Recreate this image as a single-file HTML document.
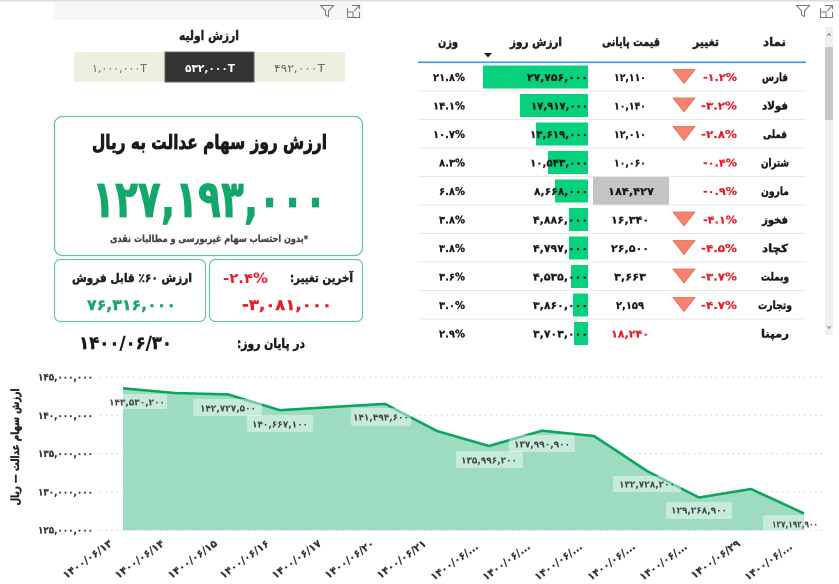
<!DOCTYPE html>
<html><head><meta charset="utf-8"><style>
html,body{margin:0;padding:0;background:#fff;width:839px;height:584px;overflow:hidden}
svg{display:block}
text{font-family:"DejaVu Sans","Liberation Sans",sans-serif;font-weight:bold}
.n{direction:ltr;unicode-bidi:bidi-override}
.r{direction:rtl;stroke:#222;stroke-width:0.45px}
.fb{stroke-width:0.3px}
</style></head><body>
<svg width="839" height="584" viewBox="0 0 839 584" xmlns="http://www.w3.org/2000/svg">
<rect x="0" y="0" width="839" height="1.5" fill="#dcdcdc"/>
<rect x="54" y="2" width="309" height="18" fill="#f7f7f7"/>
<g fill="none" stroke="#777" stroke-width="1">
<path d="M320.5,5.5 L333.5,5.5 L328.5,11 L328.5,16.5 L325.5,15 L325.5,11 Z"/>
<path d="M347.5,8 L347.5,17.5 L359.5,17.5 L359.5,12 M347.5,12 L353,12 L353,17.5 M352,5.5 L359.5,5.5 L359.5,9 M359.5,5.5 L354,11"/>
<path d="M796.5,5.5 L809.5,5.5 L804.5,11 L804.5,16.5 L801.5,15 L801.5,11 Z"/>
<path d="M820.5,8 L820.5,17.5 L832.5,17.5 L832.5,12 M820.5,12 L826,12 L826,17.5 M825,5.5 L832.5,5.5 L832.5,9 M832.5,5.5 L827,11"/>
</g>
<text class="r" x="209" y="40" font-size="13" text-anchor="middle" textLength="60" lengthAdjust="spacingAndGlyphs" fill="#222">ارزش اولیه</text>
<rect x="74" y="52" width="91" height="30" fill="#edf0df"/>
<rect x="254" y="52" width="91" height="30" fill="#edf0df"/>
<rect x="165" y="52" width="89" height="30" fill="#333" stroke="#666" stroke-width="1"/>
<text class="n" x="119.5" y="72" font-size="11" text-anchor="middle" textLength="55" lengthAdjust="spacingAndGlyphs" fill="#666" style="font-weight:normal">۱,۰۰۰,۰۰۰T</text>
<text class="n" x="210" y="72" font-size="11" text-anchor="middle" textLength="50" lengthAdjust="spacingAndGlyphs" fill="#fff">۵۳۲,۰۰۰T</text>
<text class="n" x="299.5" y="72" font-size="11" text-anchor="middle" textLength="51" lengthAdjust="spacingAndGlyphs" fill="#666" style="font-weight:normal">۴۹۲,۰۰۰T</text>
<rect x="54.5" y="116.5" width="308" height="139" rx="8" fill="#fff" stroke="#6cc59a" stroke-width="1.3"/>
<text class="r" x="209.5" y="149" font-size="20" text-anchor="middle" textLength="235" lengthAdjust="spacingAndGlyphs" fill="#1a1a1a" style="stroke:#1a1a1a;stroke-width:0.8px">ارزش روز سهام عدالت به ریال</text>
<text class="n" x="209.5" y="217" font-size="52" text-anchor="middle" textLength="235" lengthAdjust="spacingAndGlyphs" fill="#14a76c" stroke="#14a76c" stroke-width="0.8">۱۲۷,۱۹۳,۰۰۰</text>
<text class="r" x="209" y="242" font-size="10" text-anchor="middle" textLength="198" lengthAdjust="spacingAndGlyphs" fill="#444" style="stroke:#444;stroke-width:0.3px">*بدون احتساب سهام غیربورسی و مطالبات نقدی</text>
<rect x="54.5" y="259.5" width="151" height="62" rx="6" fill="#fff" stroke="#6cc59a" stroke-width="1.2"/>
<rect x="209.5" y="259.5" width="153" height="62" rx="6" fill="#fff" stroke="#6cc59a" stroke-width="1.2"/>
<text class="r" x="132" y="282" font-size="12" text-anchor="middle" textLength="120" lengthAdjust="spacingAndGlyphs" fill="#222">ارزش ۶۰٪ قابل فروش</text>
<text class="n" x="131.5" y="310" font-size="15" text-anchor="middle" textLength="89" lengthAdjust="spacingAndGlyphs" fill="#1aa86b" stroke="#1aa86b" stroke-width="0.4">۷۶,۳۱۶,۰۰۰</text>
<text class="r" x="321.5" y="282" font-size="12" text-anchor="middle" textLength="63" lengthAdjust="spacingAndGlyphs" fill="#222">آخرین تغییر:</text>
<text class="n" x="245.5" y="283" font-size="14" text-anchor="middle" textLength="45" lengthAdjust="spacingAndGlyphs" fill="#e81c2a">-۲.۴%</text>
<text class="n" x="287" y="310" font-size="15" text-anchor="middle" textLength="90" lengthAdjust="spacingAndGlyphs" fill="#e81c2a" stroke="#e81c2a" stroke-width="0.4">-۳,۰۸۱,۰۰۰</text>
<text class="n" x="125.5" y="349" font-size="18" text-anchor="middle" textLength="93" lengthAdjust="spacingAndGlyphs" fill="#1a1a1a" stroke="#1a1a1a" stroke-width="0.4">۱۴۰۰/۰۶/۳۰</text>
<text class="r" x="271" y="348" font-size="13" text-anchor="middle" textLength="68" lengthAdjust="spacingAndGlyphs" fill="#1a1a1a">در پایان روز:</text>

<g font-size="12" fill="#222">
<text class="r" x="448" y="46" text-anchor="middle" textLength="20" lengthAdjust="spacingAndGlyphs">وزن</text>
<text class="r" x="536" y="46" text-anchor="middle" textLength="52" lengthAdjust="spacingAndGlyphs">ارزش روز</text>
<text class="r" x="631" y="46" text-anchor="middle" textLength="58" lengthAdjust="spacingAndGlyphs">قیمت پایانی</text>
<text class="r" x="706" y="46" text-anchor="middle" textLength="26" lengthAdjust="spacingAndGlyphs">تغییر</text>
<text class="r" x="774.5" y="46" text-anchor="middle" textLength="23" lengthAdjust="spacingAndGlyphs">نماد</text>
</g>
<polygon points="484,53 492,53 488,57.5" fill="#222"/>
<rect x="418" y="61.5" width="388" height="1.6" fill="#3a96dd"/>
<g fill="#e8e8e8">
<rect x="418" y="90.5" width="388" height="1"/><rect x="418" y="119" width="388" height="1"/>
<rect x="418" y="147.5" width="388" height="1"/><rect x="418" y="176" width="388" height="1"/>
<rect x="418" y="204.5" width="388" height="1"/><rect x="418" y="233" width="388" height="1"/>
<rect x="418" y="261.5" width="388" height="1"/><rect x="418" y="290" width="388" height="1"/>
<rect x="418" y="318.5" width="388" height="1"/>
</g>
<g fill="#07d17c">
<rect x="483" y="65.5" width="105" height="23"/>
<rect x="520" y="94" width="68" height="23"/>
<rect x="536" y="122.5" width="52" height="23"/>
<rect x="548" y="151" width="40" height="23"/>
<rect x="555" y="179.5" width="33" height="23"/>
<rect x="569" y="208" width="19" height="23"/>
<rect x="569" y="236.5" width="19" height="23"/>
<rect x="571" y="265" width="17" height="23"/>
<rect x="573" y="293.5" width="15" height="23"/>
<rect x="574" y="322" width="14" height="23"/>
</g>
<rect x="593" y="177" width="76" height="27.5" fill="#c4c4c4"/>
<g fill="#f7836e" stroke="#e4674f" stroke-width="0.8">
<polygon points="673,69.5 695,69.5 684,83.5"/>
<polygon points="673,98 695,98 684,112"/>
<polygon points="673,126.5 695,126.5 684,140.5"/>
<polygon points="673,212 695,212 684,226"/>
<polygon points="673,240.5 695,240.5 684,254.5"/>
<polygon points="673,269 695,269 684,283"/>
<polygon points="673,297.5 695,297.5 684,311.5"/>
</g>
<g font-size="10.5" fill="#1a1a1a" stroke="#1a1a1a" stroke-width="0.25">
<text class="n" x="465" y="81" text-anchor="end" textLength="32" lengthAdjust="spacingAndGlyphs">۲۱.۸%</text>
<text class="n" x="465" y="109.5" text-anchor="end" textLength="32" lengthAdjust="spacingAndGlyphs">۱۴.۱%</text>
<text class="n" x="465" y="138" text-anchor="end" textLength="32" lengthAdjust="spacingAndGlyphs">۱۰.۷%</text>
<text class="n" x="465" y="166.5" text-anchor="end" textLength="26" lengthAdjust="spacingAndGlyphs">۸.۳%</text>
<text class="n" x="465" y="195" text-anchor="end" textLength="26" lengthAdjust="spacingAndGlyphs">۶.۸%</text>
<text class="n" x="465" y="223.5" text-anchor="end" textLength="26" lengthAdjust="spacingAndGlyphs">۳.۸%</text>
<text class="n" x="465" y="252" text-anchor="end" textLength="26" lengthAdjust="spacingAndGlyphs">۳.۸%</text>
<text class="n" x="465" y="280.5" text-anchor="end" textLength="26" lengthAdjust="spacingAndGlyphs">۳.۶%</text>
<text class="n" x="465" y="309" text-anchor="end" textLength="26" lengthAdjust="spacingAndGlyphs">۳.۰%</text>
<text class="n" x="465" y="337.5" text-anchor="end" textLength="26" lengthAdjust="spacingAndGlyphs">۲.۹%</text>
<text class="n" x="588" y="81" text-anchor="end" textLength="61" lengthAdjust="spacingAndGlyphs">۲۷,۷۵۶,۰۰۰</text>
<text class="n" x="588" y="109.5" text-anchor="end" textLength="57" lengthAdjust="spacingAndGlyphs">۱۷,۹۱۷,۰۰۰</text>
<text class="n" x="588" y="138" text-anchor="end" textLength="58" lengthAdjust="spacingAndGlyphs">۱۳,۶۱۹,۰۰۰</text>
<text class="n" x="588" y="166.5" text-anchor="end" textLength="58" lengthAdjust="spacingAndGlyphs">۱۰,۵۴۳,۰۰۰</text>
<text class="n" x="588" y="195" text-anchor="end" textLength="54" lengthAdjust="spacingAndGlyphs">۸,۶۶۸,۰۰۰</text>
<text class="n" x="588" y="223.5" text-anchor="end" textLength="55" lengthAdjust="spacingAndGlyphs">۴,۸۸۶,۰۰۰</text>
<text class="n" x="588" y="252" text-anchor="end" textLength="55" lengthAdjust="spacingAndGlyphs">۴,۷۹۷,۰۰۰</text>
<text class="n" x="588" y="280.5" text-anchor="end" textLength="55" lengthAdjust="spacingAndGlyphs">۴,۵۳۵,۰۰۰</text>
<text class="n" x="588" y="309" text-anchor="end" textLength="55" lengthAdjust="spacingAndGlyphs">۳,۸۶۰,۰۰۰</text>
<text class="n" x="588" y="337.5" text-anchor="end" textLength="55" lengthAdjust="spacingAndGlyphs">۳,۷۰۳,۰۰۰</text>
<text class="n" x="630" y="81" text-anchor="middle" textLength="32" lengthAdjust="spacingAndGlyphs">۱۲,۱۱۰</text>
<text class="n" x="630" y="109.5" text-anchor="middle" textLength="32" lengthAdjust="spacingAndGlyphs">۱۰,۱۴۰</text>
<text class="n" x="630" y="138" text-anchor="middle" textLength="32" lengthAdjust="spacingAndGlyphs">۱۲,۰۱۰</text>
<text class="n" x="630" y="166.5" text-anchor="middle" textLength="32" lengthAdjust="spacingAndGlyphs">۱۰,۰۶۰</text>
<text class="n" x="631" y="195" text-anchor="middle" textLength="46" lengthAdjust="spacingAndGlyphs">۱۸۴,۴۲۷</text>
<text class="n" x="630" y="223.5" text-anchor="middle" textLength="38" lengthAdjust="spacingAndGlyphs">۱۶,۳۴۰</text>
<text class="n" x="630" y="252" text-anchor="middle" textLength="38" lengthAdjust="spacingAndGlyphs">۲۶,۵۰۰</text>
<text class="n" x="630" y="280.5" text-anchor="middle" textLength="32" lengthAdjust="spacingAndGlyphs">۳,۶۶۳</text>
<text class="n" x="630" y="309" text-anchor="middle" textLength="28" lengthAdjust="spacingAndGlyphs">۲,۱۵۹</text>
<text class="n" x="630" y="337.5" text-anchor="middle" textLength="38" lengthAdjust="spacingAndGlyphs" fill="#e81c2a" stroke="#e81c2a">۱۸,۲۴۰</text>
</g>
<g font-size="10.5" fill="#e81c2a" stroke="#e81c2a" stroke-width="0.2">
<text class="n" x="737" y="81" text-anchor="end" textLength="34" lengthAdjust="spacingAndGlyphs">-۱.۲%</text>
<text class="n" x="737" y="109.5" text-anchor="end" textLength="36" lengthAdjust="spacingAndGlyphs">-۳.۲%</text>
<text class="n" x="737" y="138" text-anchor="end" textLength="36" lengthAdjust="spacingAndGlyphs">-۲.۸%</text>
<text class="n" x="737" y="166.5" text-anchor="end" textLength="34" lengthAdjust="spacingAndGlyphs">-۰.۴%</text>
<text class="n" x="737" y="195" text-anchor="end" textLength="34" lengthAdjust="spacingAndGlyphs">-۰.۹%</text>
<text class="n" x="737" y="223.5" text-anchor="end" textLength="34" lengthAdjust="spacingAndGlyphs">-۴.۱%</text>
<text class="n" x="737" y="252" text-anchor="end" textLength="36" lengthAdjust="spacingAndGlyphs">-۴.۵%</text>
<text class="n" x="737" y="280.5" text-anchor="end" textLength="36" lengthAdjust="spacingAndGlyphs">-۳.۷%</text>
<text class="n" x="737" y="309" text-anchor="end" textLength="36" lengthAdjust="spacingAndGlyphs">-۴.۷%</text>
</g>
<g font-size="11" fill="#1a1a1a">
<text class="r" x="775" y="81" text-anchor="middle" textLength="26" lengthAdjust="spacingAndGlyphs">فارس</text>
<text class="r" x="775" y="109.5" text-anchor="middle" textLength="26" lengthAdjust="spacingAndGlyphs">فولاد</text>
<text class="r" x="775" y="138" text-anchor="middle" textLength="24" lengthAdjust="spacingAndGlyphs">فملی</text>
<text class="r" x="775" y="166.5" text-anchor="middle" textLength="28" lengthAdjust="spacingAndGlyphs">شتران</text>
<text class="r" x="775" y="195" text-anchor="middle" textLength="28" lengthAdjust="spacingAndGlyphs">مارون</text>
<text class="r" x="775" y="223.5" text-anchor="middle" textLength="26" lengthAdjust="spacingAndGlyphs">فخوز</text>
<text class="r" x="775" y="252" text-anchor="middle" textLength="26" lengthAdjust="spacingAndGlyphs">کچاد</text>
<text class="r" x="775" y="280.5" text-anchor="middle" textLength="28" lengthAdjust="spacingAndGlyphs">وبملت</text>
<text class="r" x="775" y="309" text-anchor="middle" textLength="34" lengthAdjust="spacingAndGlyphs">وتجارت</text>
<text class="r" x="775" y="337.5" text-anchor="middle" textLength="28" lengthAdjust="spacingAndGlyphs">رمپنا</text>
</g>
<rect x="825" y="27" width="8" height="308" fill="#f0f0f0"/>
<rect x="825" y="47" width="8" height="73" fill="#c8c8c8"/>
<path d="M827,36 L829,33.5 L831,36" fill="none" stroke="#777" stroke-width="0.8"/>
<path d="M827,326 L829,328.5 L831,326" fill="none" stroke="#777" stroke-width="0.8"/>

<g stroke="#cfcfcf" stroke-width="1" stroke-dasharray="1.5,4">
<line x1="100" y1="377" x2="822" y2="377"/>
<line x1="100" y1="415.3" x2="822" y2="415.3"/>
<line x1="100" y1="453.6" x2="822" y2="453.6"/>
<line x1="100" y1="491.9" x2="822" y2="491.9"/>
<line x1="100" y1="530.2" x2="822" y2="530.2"/>
</g>
<path d="M123,530.2 L123,388.3 L175,393 L228,394.4 L280,410.2 L332,407 L385,403.9 L437,431 L489,446 L542,430.7 L594,436 L647,471 L699,497.5 L751,489 L804,513.4 L804,530.2 Z" fill="#9edcc1"/>
<path d="M123,388.3 L175,393 L228,394.4 L280,410.2 L332,407 L385,403.9 L437,431 L489,446 L542,430.7 L594,436 L647,471 L699,497.5 L751,489 L804,513.4" fill="none" stroke="#0aa65a" stroke-width="2.6" stroke-linejoin="round"/>
<g fill="#ffffff" fill-opacity="0.42">
<rect x="107" y="394" width="60" height="15" rx="2"/>
<rect x="193" y="399" width="69" height="17" rx="2"/>
<rect x="247" y="415" width="66" height="17" rx="2"/>
<rect x="351" y="408" width="60" height="18" rx="2"/>
<rect x="456" y="451" width="67" height="17" rx="2"/>
<rect x="509" y="435" width="66" height="17" rx="2"/>
<rect x="613" y="476" width="68" height="16" rx="2"/>
<rect x="666" y="502" width="66" height="17" rx="2"/>
<rect x="763" y="515" width="57" height="17" rx="2"/>
</g>
<g font-size="9.5" fill="#444" text-anchor="middle">
<text class="n" x="137" y="405.5" textLength="56" lengthAdjust="spacingAndGlyphs">۱۴۳,۵۳۰,۲۰۰</text>
<text class="n" x="228" y="411.5" textLength="56" lengthAdjust="spacingAndGlyphs">۱۴۲,۷۲۷,۵۰۰</text>
<text class="n" x="280" y="427.5" textLength="56" lengthAdjust="spacingAndGlyphs">۱۴۰,۶۶۷,۱۰۰</text>
<text class="n" x="381" y="420.5" textLength="56" lengthAdjust="spacingAndGlyphs">۱۴۱,۴۹۴,۶۰۰</text>
<text class="n" x="489" y="463.5" textLength="56" lengthAdjust="spacingAndGlyphs">۱۳۵,۹۹۶,۲۰۰</text>
<text class="n" x="542" y="447.5" textLength="56" lengthAdjust="spacingAndGlyphs">۱۳۷,۹۹۰,۹۰۰</text>
<text class="n" x="647" y="487.5" textLength="56" lengthAdjust="spacingAndGlyphs">۱۳۲,۷۲۸,۲۰۰</text>
<text class="n" x="699" y="513.5" textLength="56" lengthAdjust="spacingAndGlyphs">۱۲۹,۲۶۸,۹۰۰</text>
<text class="n" x="795" y="527.5" textLength="46" lengthAdjust="spacingAndGlyphs">۱۲۷,۱۹۲,۹۰۰</text>
</g>
<g font-size="10" fill="#333" text-anchor="end" stroke="#333" stroke-width="0.2">
<text class="n" x="93" y="380.5" textLength="55" lengthAdjust="spacingAndGlyphs">۱۴۵,۰۰۰,۰۰۰</text>
<text class="n" x="93" y="418.8" textLength="55" lengthAdjust="spacingAndGlyphs">۱۴۰,۰۰۰,۰۰۰</text>
<text class="n" x="93" y="457.1" textLength="55" lengthAdjust="spacingAndGlyphs">۱۳۵,۰۰۰,۰۰۰</text>
<text class="n" x="93" y="495.4" textLength="55" lengthAdjust="spacingAndGlyphs">۱۳۰,۰۰۰,۰۰۰</text>
<text class="n" x="93" y="533.7" textLength="55" lengthAdjust="spacingAndGlyphs">۱۲۵,۰۰۰,۰۰۰</text>
</g>
<text class="r" transform="translate(19,447) rotate(-90)" x="0" y="0" font-size="11" text-anchor="middle" textLength="117" lengthAdjust="spacingAndGlyphs" fill="#222">ارزش سهام عدالت — ریال</text>
<g font-size="10.5" fill="#333" text-anchor="end" stroke="#333" stroke-width="0.2">
<text class="n" transform="translate(113,545) rotate(-36)" textLength="58" lengthAdjust="spacingAndGlyphs">۱۴۰۰/۰۶/۱۳</text>
<text class="n" transform="translate(165,545) rotate(-36)" textLength="58" lengthAdjust="spacingAndGlyphs">۱۴۰۰/۰۶/۱۴</text>
<text class="n" transform="translate(218,545) rotate(-36)" textLength="58" lengthAdjust="spacingAndGlyphs">۱۴۰۰/۰۶/۱۵</text>
<text class="n" transform="translate(270,545) rotate(-36)" textLength="58" lengthAdjust="spacingAndGlyphs">۱۴۰۰/۰۶/۱۶</text>
<text class="n" transform="translate(322,545) rotate(-36)" textLength="58" lengthAdjust="spacingAndGlyphs">۱۴۰۰/۰۶/۱۷</text>
<text class="n" transform="translate(375,545) rotate(-36)" textLength="58" lengthAdjust="spacingAndGlyphs">۱۴۰۰/۰۶/۲۰</text>
<text class="n" transform="translate(427,545) rotate(-36)" textLength="58" lengthAdjust="spacingAndGlyphs">۱۴۰۰/۰۶/۲۱</text>
<text class="n" transform="translate(479,548) rotate(-36)" textLength="56" lengthAdjust="spacingAndGlyphs">۱۴۰۰/۰۶/...</text>
<text class="n" transform="translate(531,548) rotate(-36)" textLength="56" lengthAdjust="spacingAndGlyphs">۱۴۰۰/۰۶/...</text>
<text class="n" transform="translate(583,548) rotate(-36)" textLength="56" lengthAdjust="spacingAndGlyphs">۱۴۰۰/۰۶/...</text>
<text class="n" transform="translate(636,548) rotate(-36)" textLength="56" lengthAdjust="spacingAndGlyphs">۱۴۰۰/۰۶/...</text>
<text class="n" transform="translate(688,548) rotate(-36)" textLength="56" lengthAdjust="spacingAndGlyphs">۱۴۰۰/۰۶/...</text>
<text class="n" transform="translate(741,545) rotate(-36)" textLength="58" lengthAdjust="spacingAndGlyphs">۱۴۰۰/۰۶/۲۹</text>
<text class="n" transform="translate(793,548) rotate(-36)" textLength="56" lengthAdjust="spacingAndGlyphs">۱۴۰۰/۰۶/...</text>
</g>
</svg>
</body></html>
